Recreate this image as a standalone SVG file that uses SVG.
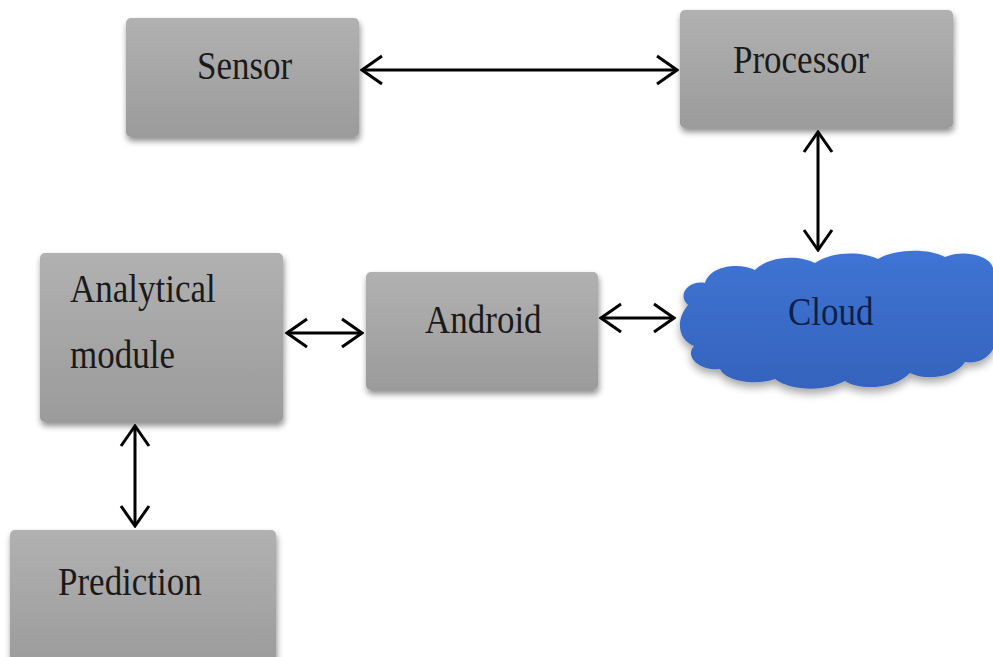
<svg xmlns="http://www.w3.org/2000/svg" width="993" height="657" viewBox="0 0 993 657">
  <style>
    .box { fill: url(#boxFill); filter: url(#shadow); }
    .label { font-family: "Liberation Serif", "Times New Roman", serif; font-size: 35px; fill: #1a1a1a; }
    .cloudLabel { fill: #0d1f4a; }
    .link { stroke: #000; stroke-width: 3; fill: none; marker-start: url(#head); marker-end: url(#head); }
  </style>
  <defs>
    <linearGradient id="boxFill" x1="0" y1="0" x2="0" y2="1">
      <stop offset="0" stop-color="#b1b1b1"/>
      <stop offset="1" stop-color="#9b9b9b"/>
    </linearGradient>
    <linearGradient id="cloudFill" x1="0" y1="0" x2="0" y2="1">
      <stop offset="0" stop-color="#3f74d4"/>
      <stop offset="1" stop-color="#3463bd"/>
    </linearGradient>
    <filter id="shadow" x="-10%" y="-10%" width="125%" height="130%">
      <feGaussianBlur in="SourceAlpha" stdDeviation="3"/>
      <feOffset dx="1" dy="4" result="b"/>
      <feComponentTransfer><feFuncA type="linear" slope="0.45"/></feComponentTransfer>
      <feMerge><feMergeNode/><feMergeNode in="SourceGraphic"/></feMerge>
    </filter>
    <filter id="cloudGlow" x="-10%" y="-20%" width="125%" height="150%">
      <feGaussianBlur in="SourceAlpha" stdDeviation="4"/>
      <feOffset dx="0" dy="5"/>
      <feComponentTransfer><feFuncA type="linear" slope="0.35"/></feComponentTransfer>
      <feMerge><feMergeNode/><feMergeNode in="SourceGraphic"/></feMerge>
    </filter>
    <marker id="head" viewBox="0 0 24 32" refX="22" refY="16" markerWidth="24" markerHeight="32" markerUnits="userSpaceOnUse" orient="auto-start-reverse">
      <polyline points="2,2 22,16 2,30" fill="none" stroke="#000" stroke-width="3"/>
    </marker>
  </defs>

  <rect width="993" height="657" fill="#ffffff"/>

  <g id="connectors">
    <line class="link" x1="362" y1="70" x2="677" y2="70"/>
    <line class="link" x1="818" y1="132" x2="818" y2="250"/>
    <line class="link" x1="601" y1="318" x2="674" y2="318"/>
    <line class="link" x1="287" y1="333" x2="362" y2="333"/>
    <line class="link" x1="135" y1="426" x2="135" y2="526"/>
  </g>

  <g id="sensor">
    <rect class="box" x="126" y="18" width="233" height="119" rx="5"/>
    <text class="label" transform="translate(197 79) scale(1 1.12)">Sensor</text>
  </g>

  <g id="processor">
    <rect class="box" x="680" y="10" width="273" height="118" rx="5"/>
    <text class="label" transform="translate(733 73) scale(1 1.12)">Processor</text>
  </g>

  <g id="cloud">
    <path filter="url(#cloudGlow)" fill="url(#cloudFill)" d="M 688 305 C 676 294, 690 280, 705 283 C 710 266, 738 262, 755 270 C 770 255, 800 255, 815 263 C 832 251, 862 251, 878 259 C 895 249, 928 248, 945 257 C 965 249, 990 256, 993 268 L 998 330 C 998 350, 985 365, 965 362 C 955 378, 925 381, 910 373 C 895 389, 860 391, 845 381 C 825 392, 790 391, 775 379 C 755 386, 725 381, 720 369 C 700 371, 684 357, 694 346 C 678 340, 675 320, 688 305 Z"/>
    <text class="label cloudLabel" transform="translate(788 325) scale(1 1.12)">Cloud</text>
  </g>

  <g id="android">
    <rect class="box" x="366" y="272" width="232" height="118" rx="5"/>
    <text class="label" transform="translate(425 333) scale(1 1.12)">Android</text>
  </g>

  <g id="analytical-module">
    <rect class="box" x="40" y="253" width="243" height="169" rx="5"/>
    <text class="label" transform="translate(70 302) scale(1 1.12)">Analytical</text>
    <text class="label" transform="translate(70 368) scale(1 1.12)">module</text>
  </g>

  <g id="prediction">
    <rect class="box" x="10" y="530" width="266" height="140" rx="5"/>
    <text class="label" transform="translate(58 595) scale(1 1.12)">Prediction</text>
  </g>
</svg>
